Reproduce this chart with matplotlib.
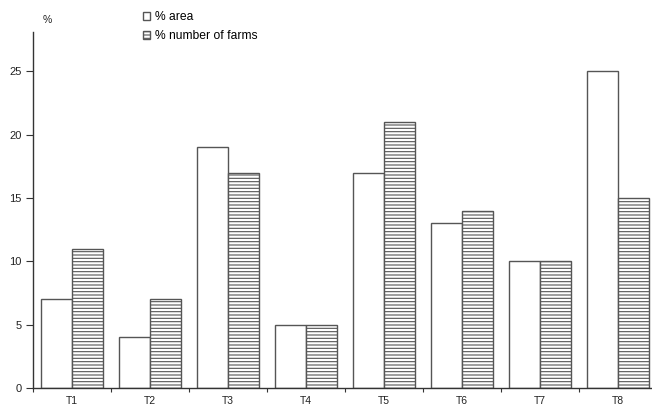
import matplotlib
matplotlib.use("Agg")
import matplotlib.pyplot as plt
import numpy as np

categories = ["T1", "T2", "T3", "T4", "T5", "T6", "T7", "T8"]
pct_area = [7, 4, 19, 5, 17, 13, 10, 25]
pct_farms = [11, 7, 17, 5, 21, 14, 10, 15]
yticks = [0, 5, 10, 15, 20, 25]

plt.rcParams['font.family'] = ['Liberation Sans', 'DejaVu Sans']
plt.rcParams['hatch.linewidth'] = 0.8
plt.rcParams['hatch.color'] = '#444444'

W, H = 652, 407
fig = plt.figure(figsize=(W / 100, H / 100), dpi=100)
ax = fig.add_axes([33 / W, 19 / H, (657 - 33) / W, (388 - 32) / H])

x = np.arange(len(categories))
bw = 0.4
edge = '#555555'
b1 = ax.bar(x - bw / 2, pct_area, bw, color='white', edgecolor=edge, linewidth=1.0, label='% area')
b2 = ax.bar(x + bw / 2, pct_farms, bw, color='white', edgecolor=edge, linewidth=1.0,
            hatch='-----', label='% number of farms')

ax.set_xlim(-0.5, len(categories) - 0.5)
ax.set_ylim(0, 28.1)
ax.set_yticks(yticks)
ax.set_yticklabels([str(v) for v in yticks], fontsize=8, color='#222222')
ax.set_xticks(np.arange(len(categories) + 1) - 0.5, minor=False)
ax.set_xticklabels([''] * (len(categories) + 1))
ax.set_xticks(x, minor=True)
ax.set_xticklabels(categories, minor=True, fontsize=7.5, color='#222222')
ax.tick_params(axis='x', which='minor', length=0, pad=6)
ax.tick_params(axis='x', which='major', length=3, direction='out', color='#333333')
ax.tick_params(axis='y', length=5, direction='out', color='#333333', pad=3)

for s in ['top', 'right']:
    ax.spines[s].set_visible(False)
for s in ['left', 'bottom']:
    ax.spines[s].set_color('#333333')
    ax.spines[s].set_linewidth(1.0)

fig.text(47 / W, 1 - 20 / H, '%', fontsize=7.5, ha='center', va='center', color='#222222')

leg = fig.legend(handles=[b1, b2], loc='upper left', bbox_to_anchor=(143 / W, 1 - 11 / H),
                 frameon=False, fontsize=8.7, handlelength=0.6, handleheight=0.6,
                 handletextpad=0.4, labelspacing=0.6, borderaxespad=0, borderpad=0)

fig.savefig('out.png', dpi=100)
